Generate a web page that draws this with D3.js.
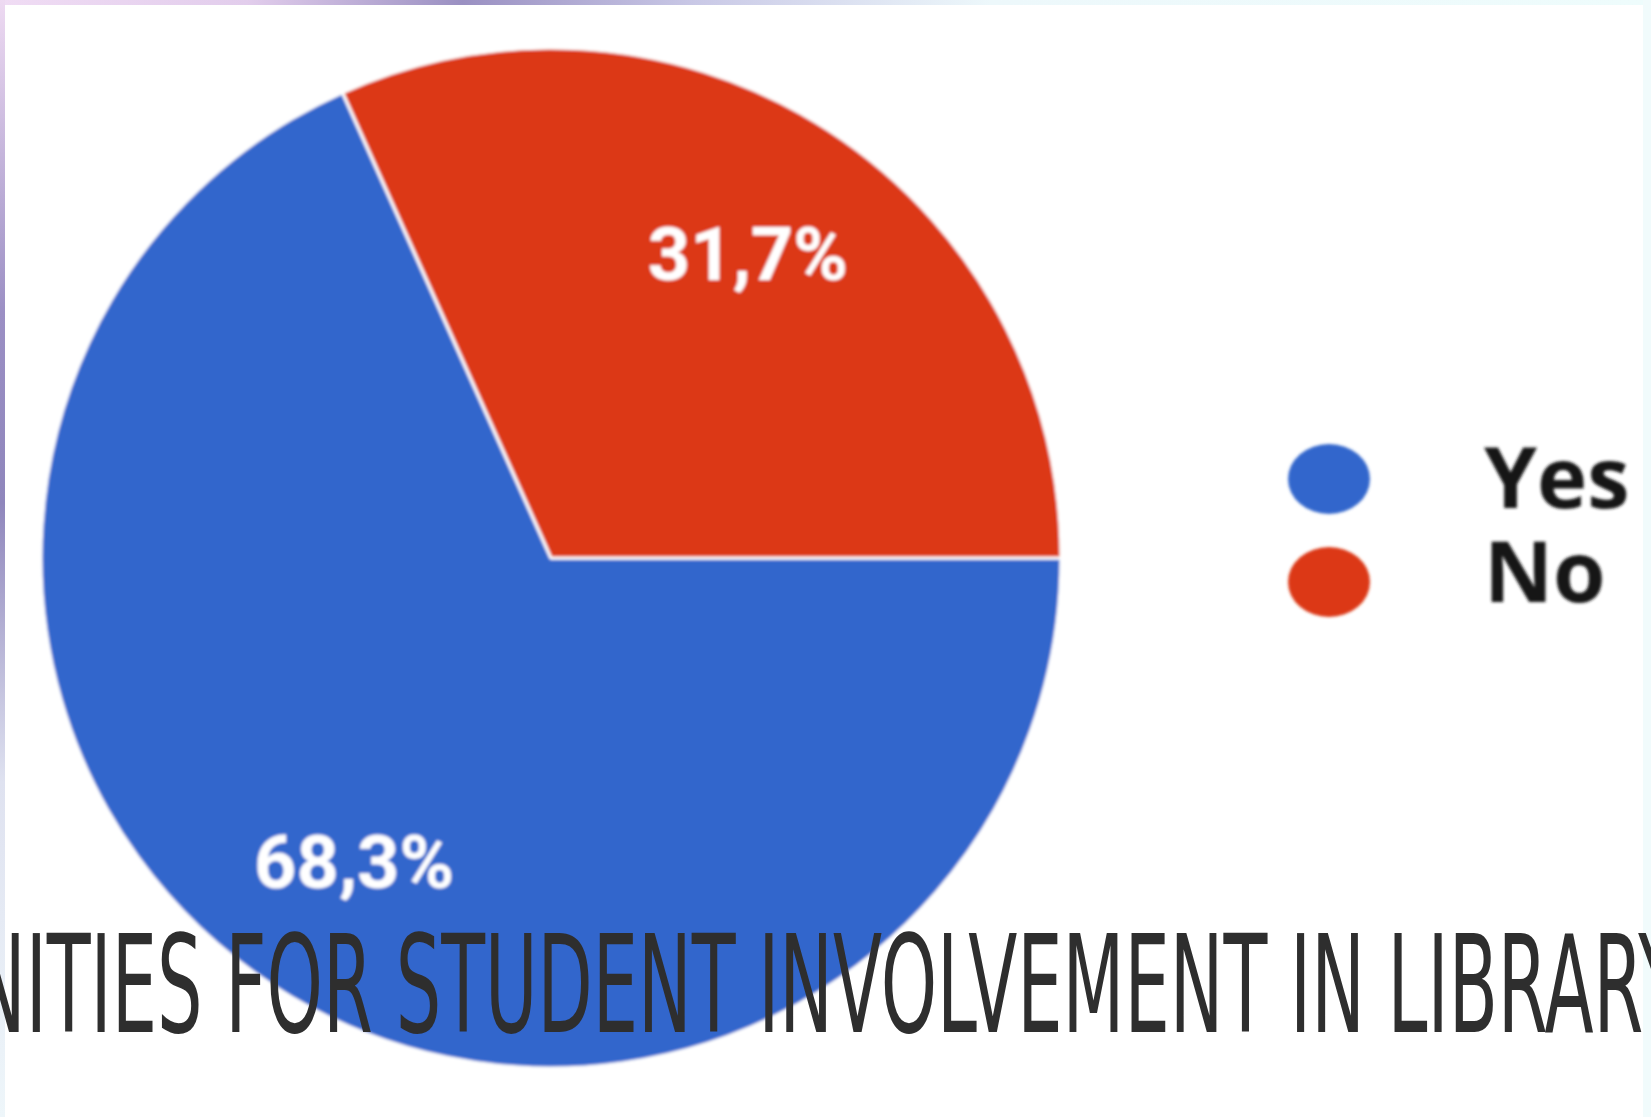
<!DOCTYPE html>
<html>
<head>
<meta charset="utf-8">
<script src="https://cdn.jsdelivr.net/npm/d3@7"></script>
<style>
  html, body { margin: 0; padding: 0; background: #ffffff; overflow: hidden; }
  svg { display: block; }
</style>
</head>
<body>
<div id="chart"></div>
<script>
// Survey answers and their shares (percent)
const categories = ["Yes", "No"];
const values = [68.3, 31.7];
const colors = ["#3366cc", "#dc3912"];
const headline = "NITIES FOR STUDENT INVOLVEMENT IN LIBRARY";

const W = 1651, H = 1117;
const cx = 551, cy = 558, R = 510;

const svg = d3.select("#chart").append("svg")
  .attr("width", W).attr("height", H);

const defs = svg.append("defs");
defs.append("filter").attr("id", "soft")
  .attr("x", "-5%").attr("y", "-5%").attr("width", "110%").attr("height", "110%")
  .append("feGaussianBlur").attr("stdDeviation", 1.4);

const topGrad = defs.append("linearGradient").attr("id", "topEdge")
  .attr("x1", "0%").attr("x2", "100%");
[["0%", "#f0dcf4"], ["15%", "#e2cdec"], ["28%", "#9a90c2"], ["42%", "#c9c8e6"], ["60%", "#edf8fb"], ["100%", "#eefcfc"]]
  .forEach(([o, c]) => topGrad.append("stop").attr("offset", o).attr("stop-color", c));
const leftGrad = defs.append("linearGradient").attr("id", "leftEdge")
  .attr("x1", "0%").attr("x2", "0%").attr("y1", "0%").attr("y2", "100%");
[["0%", "#eedaf2"], ["28%", "#9b8fc4"], ["45%", "#8f86bc"], ["70%", "#dfe2f0"], ["100%", "#eef6fa"]]
  .forEach(([o, c]) => leftGrad.append("stop").attr("offset", o).attr("stop-color", c));

svg.append("rect").attr("width", W).attr("height", H).attr("fill", "#ffffff");

// thin frame of the slide behind the chart
svg.append("rect").attr("x", 0).attr("y", 0).attr("width", W).attr("height", 5).attr("fill", "url(#topEdge)");
svg.append("rect").attr("x", 0).attr("y", 0).attr("width", 5).attr("height", H).attr("fill", "url(#leftEdge)");
svg.append("rect").attr("x", W - 8).attr("y", 0).attr("width", 8).attr("height", H).attr("fill", "#f1fbfc");

const data = categories.map((c, i) => ({ category: c, value: values[i], color: colors[i] }));

// pie starts at 3 o'clock and runs clockwise
const pie = d3.pie().value(d => d.value).sort(null)
  .startAngle(Math.PI / 2).endAngle(Math.PI / 2 + 2 * Math.PI);
const arcs = pie(data);
const arc = d3.arc().innerRadius(0).outerRadius(R);
const labelArc = d3.arc().innerRadius(R * 0.71).outerRadius(R * 0.71);

const chart = svg.append("g").attr("filter", "url(#soft)");
const g = chart.append("g").attr("transform", `translate(${cx},${cy})`);

g.selectAll("path.slice").data(arcs).join("path")
  .attr("class", "slice")
  .attr("d", arc)
  .attr("fill", d => d.data.color)
  .attr("stroke", "#ffffff")
  .attr("stroke-width", 3)
  .attr("stroke-linejoin", "round");

const fmt = v => v.toFixed(1).replace(".", ",") + "%";
g.selectAll("text.pct").data(arcs).join("text")
  .attr("class", "pct")
  .attr("x", d => labelArc.centroid(d)[0])
  .attr("y", d => labelArc.centroid(d)[1] + 26)
  .attr("text-anchor", "middle")
  .attr("font-family", "Roboto, 'Liberation Sans', Arial, sans-serif")
  .attr("font-weight", 700)
  .attr("font-size", 74)
  .attr("fill", "#ffffff")
  .text(d => fmt(d.data.value));

// legend
const legend = chart.append("g").attr("transform", "translate(1329,479)");
const rows = legend.selectAll("g.row").data(data).join("g")
  .attr("class", "row")
  .attr("transform", (d, i) => `translate(0,${i * 103})`);
rows.append("ellipse").attr("rx", 41).attr("ry", 35).attr("fill", d => d.color);
rows.append("text")
  .attr("x", 155).attr("y", (d, i) => 29 - i * 9)
  .attr("font-family", "'Open Sans', 'DejaVu Sans', sans-serif")
  .attr("font-weight", 700)
  .attr("font-size", 85)
  .attr("fill", "#141414")
  .text(d => d.category);

// headline running across the lower part of the slide
svg.append("text")
  .attr("x", -28).attr("y", 1032)
  .attr("textLength", 1710)
  .attr("lengthAdjust", "spacingAndGlyphs")
  .attr("font-family", "'DejaVu Sans Condensed', 'DejaVu Sans', sans-serif")
  .attr("font-size", 136)
  .attr("fill", "#2e2e2e")
  .text(headline);
</script>
</body>
</html>
